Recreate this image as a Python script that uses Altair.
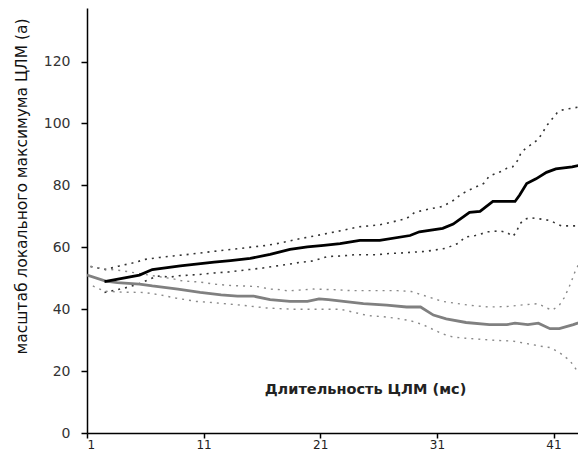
import altair as alt
import pandas as pd

# black median line
blk_x = [2.5, 5.5, 6.6, 9.0, 11.9, 13.3, 15.0, 16.7, 18.4, 19.9, 21.3, 22.7, 24.4, 26.1, 28.7,
         29.5, 31.5, 32.4, 33.8, 34.7, 35.8, 37.7, 38.1, 38.7, 39.5, 40.4, 41.2, 42.6, 43.8]
blk_y = [48.9, 51.0, 52.8, 54.0, 55.2, 55.7, 56.4, 57.7, 59.3, 60.1, 60.6, 61.2, 62.2, 62.2, 63.8,
         65.0, 66.1, 67.5, 71.3, 71.6, 74.8, 74.8, 76.9, 80.6, 82.1, 84.2, 85.3, 86.0, 86.9]

# black upper band
bup_x = [1.3, 2.6, 3.7, 4.9, 6.0, 7.2, 8.4, 9.7, 11.0, 13.6, 15.2, 16.4, 17.6, 18.9, 20.7, 21.9,
         23.1, 24.3, 26.0, 27.1, 28.4, 29.1, 30.4, 31.5, 32.4, 33.1, 34.0, 35.0, 35.5, 36.5, 37.0,
         37.5, 38.0, 38.2, 38.6, 39.2, 39.7, 40.1, 40.5, 41.0, 41.3, 41.7, 42.2, 43.5]
bup_y = [53.8, 52.8, 53.9, 54.9, 56.1, 56.7, 57.2, 57.7, 58.3, 59.4, 60.1, 60.6, 61.4, 62.5, 63.8,
         64.7, 65.6, 66.6, 67.2, 68.1, 69.3, 71.3, 72.4, 73.2, 75.1, 77.2, 78.9, 80.6, 83.0, 84.5,
         85.5, 86.0, 88.4, 90.5, 91.9, 93.5, 94.9, 97.3, 99.7, 102.0, 103.4, 104.3, 104.7, 105.5]

# black lower band
blo_x = [2.5, 4.2, 5.4, 6.3, 7.0, 8.2, 8.9, 10.6, 11.9, 13.1, 14.2, 14.9, 16.1, 17.3, 18.6, 19.2,
         20.4, 21.6, 22.8, 24.0, 25.8, 27.0, 28.1, 30.1, 31.3, 31.8, 32.9, 33.4, 34.3, 35.4, 36.4,
         37.0, 37.5, 37.8, 38.1, 38.5, 39.0, 39.5, 40.2, 40.8, 41.2, 41.7, 42.9]
blo_y = [45.4, 46.8, 48.1, 49.6, 50.7, 50.4, 50.8, 51.2, 51.7, 52.0, 52.5, 52.8, 53.3, 54.0, 54.7,
         55.1, 55.6, 57.0, 57.2, 57.6, 57.6, 58.0, 58.2, 58.7, 59.4, 59.7, 61.4, 63.3, 63.8, 65.0,
         65.3, 64.8, 63.5, 64.8, 67.5, 69.0, 69.6, 69.3, 69.0, 68.5, 67.7, 66.9, 66.9]

# grey median line
gry_x = [1.0, 2.6, 3.6, 5.5, 6.6, 8.8, 10.7, 12.5, 13.9, 15.3, 16.7, 18.4, 19.9, 20.9, 21.7, 23.0,
         24.7, 26.7, 28.4, 29.6, 30.7, 31.8, 33.5, 35.5, 37.0, 37.7, 38.8, 39.7, 40.7, 41.5, 42.7, 43.8]
gry_y = [51.0, 49.1, 48.6, 48.1, 47.5, 46.5, 45.4, 44.6, 44.2, 44.2, 43.1, 42.5, 42.5, 43.3, 43.1,
         42.5, 41.8, 41.3, 40.7, 40.7, 38.1, 36.9, 35.7, 35.0, 35.0, 35.5, 35.0, 35.5, 33.7, 33.7,
         35.0, 36.5]

# grey upper band
gup_x = [1.3, 2.6, 3.9, 5.5, 7.0, 8.4, 9.2, 10.6, 11.9, 13.1, 15.6, 16.7, 17.6, 18.2, 20.4, 22.3,
         23.6, 26.4, 27.6, 28.8, 31.5, 33.7, 35.5, 37.2, 38.1, 39.7, 40.4, 40.9, 41.5, 41.9, 42.2,
         42.5, 42.8, 43.2, 43.7]
gup_y = [53.8, 53.0, 52.5, 51.5, 50.6, 49.8, 49.1, 48.8, 48.1, 47.7, 47.3, 46.5, 46.3, 45.9, 46.5,
         46.3, 46.0, 46.0, 46.0, 45.7, 42.5, 41.3, 40.7, 40.9, 41.3, 41.8, 40.4, 39.7, 41.3, 43.6,
         46.0, 48.6, 51.7, 54.9, 57.5]

# grey lower band
glo_x = [1.5, 2.5, 4.0, 5.9, 7.3, 8.6, 10.4, 11.9, 14.2, 16.4, 17.3, 18.7, 21.0, 22.7, 24.0, 25.1,
         26.4, 27.6, 28.4, 28.8, 29.8, 30.7, 31.5, 32.4, 33.5, 35.0, 36.1, 37.5, 38.7, 39.8, 40.7,
         41.5, 42.4, 43.1, 43.5]
glo_y = [47.5, 45.8, 45.5, 45.4, 44.6, 43.6, 42.5, 42.1, 41.3, 40.4, 40.2, 40.0, 40.0, 40.0, 38.9,
         37.9, 37.6, 37.0, 36.5, 36.2, 35.0, 33.4, 32.0, 31.0, 30.6, 30.2, 29.9, 29.7, 28.9, 28.1,
         27.6, 26.0, 23.4, 19.7, 16.1]

x_ticks = [1, 11, 21, 31, 41]
y_ticks = [0, 20, 40, 60, 80, 100, 120]

x_title = "Длительность  ЦЛМ (мс)"
y_title = "масштаб локального максимума ЦЛМ (а)"

FONT = "DejaVu Sans"

xscale = alt.Scale(domain=[1, 43.1], nice=False, zero=False)
yscale = alt.Scale(domain=[0, 137.3], nice=False, zero=True)

xaxis = alt.Axis(values=x_ticks, grid=False, domainColor="black", domainWidth=1.5,
                 tickColor="black", tickWidth=1.5, tickSize=5, labelFont=FONT, labelFontSize=12,
                 labelColor="#222", labelPadding=1, title=x_title, titleFont=FONT,
                 titleFontSize=14.5, titleFontWeight="bold", titleColor="#222",
                 titleX=278, titleY=-40, titleAlign="center", titleBaseline="alphabetic")
yaxis = alt.Axis(values=y_ticks, grid=False, domainColor="black", domainWidth=1.5,
                 tickColor="black", tickWidth=1.5, tickSize=6, labelFont=FONT, labelFontSize=14,
                 labelColor="#333", labelPadding=11, title=y_title, titleFont=FONT,
                 titleFontSize=15.5, titleFontWeight="normal", titleColor="#111",
                 titleX=-66, titleY=178, titleAlign="center", titleBaseline="middle", titleAngle=270)


def layer(xs, ys, color, width, dash=None):
    df = pd.DataFrame({"x": xs, "y": ys})
    kw = dict(color=color, strokeWidth=width, clip=True)
    if dash is not None:
        kw["strokeDash"] = dash
    return alt.Chart(df).mark_line(**kw).encode(
        x=alt.X("x:Q", scale=xscale, axis=xaxis),
        y=alt.Y("y:Q", scale=yscale, axis=yaxis),
    )


chart = alt.layer(
    layer(bup_x, bup_y, "#333333", 1.6, [2, 5]),
    layer(blo_x, blo_y, "#333333", 1.6, [2, 5]),
    layer(gup_x, gup_y, "#8a8a8a", 1.4, [2, 5]),
    layer(glo_x, glo_y, "#8a8a8a", 1.4, [2, 5]),
    layer(gry_x, gry_y, "#808080", 2.8),
    layer(blk_x, blk_y, "#000000", 2.8),
).properties(
    width=491, height=425,
    autosize=alt.AutoSizeParams(type="none"),
    padding={"left": 79, "top": 0, "right": 0, "bottom": 20},
    background="white",
).configure_view(stroke=None)

chart.save("out.html", embed_options={"renderer": "svg", "actions": False})
